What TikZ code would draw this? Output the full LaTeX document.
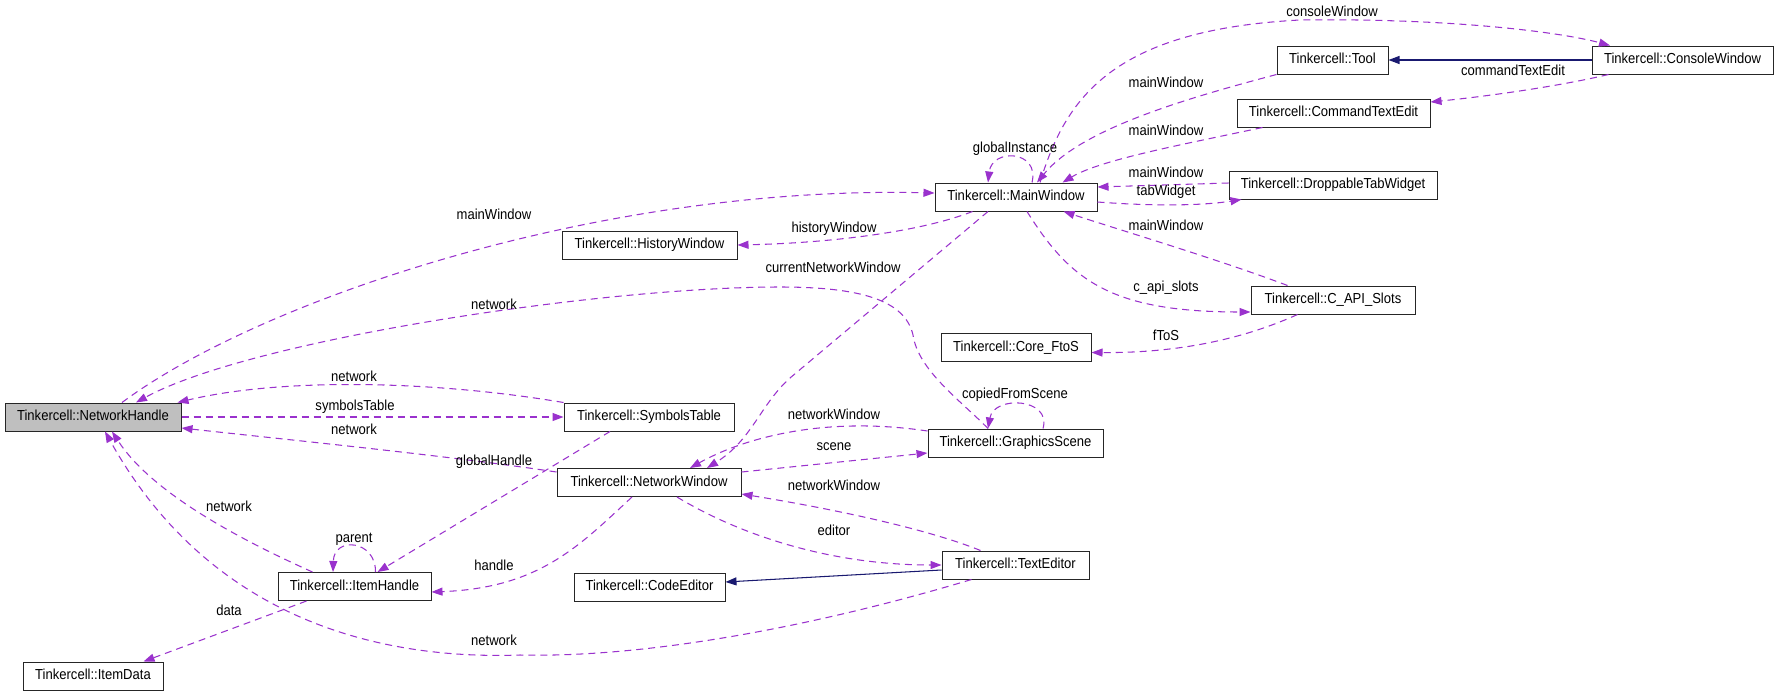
\documentclass[tikz,border=0pt]{standalone}
\usepackage{fontspec}
\setmainfont{Liberation Sans}[FakeStretch=0.9]
\usetikzlibrary{arrows.meta}
\definecolor{edgepurple}{RGB}{154,50,205}
\definecolor{inhnavy}{RGB}{25,25,112}
\definecolor{nhgray}{RGB}{191,191,191}
\begin{document}
\begin{tikzpicture}[x=1pt,y=-1pt,
  cls/.style={draw=black!85, line width=1pt, inner sep=0pt, minimum height=28pt,
    text height=10.6pt, text depth=3pt, font=\fontsize{14.5}{17}\selectfont},
  lbl/.style={inner sep=0pt, text height=10.6pt, text depth=3pt, font=\fontsize{14.5}{17}\selectfont},
  assoc/.style={draw=edgepurple, line width=1.05pt, dash pattern=on 7pt off 5pt,
    -{Triangle[length=11pt,width=8pt]}},
  inh/.style={draw=inhnavy, line width=1.05pt, -{Triangle[length=11pt,width=8pt]}}]
\fill[white] (0,0) rectangle (1779,696);
\useasboundingbox (0,0) rectangle (1779,696);

% nodes
\node[cls, fill=nhgray, minimum width=176pt] (NH) at (93,417) {Tinkercell::NetworkHandle};
\node[cls, minimum width=170pt] (ST) at (649,417) {Tinkercell::SymbolsTable};
\node[cls, minimum width=184pt] (NW) at (649,482.5) {Tinkercell::NetworkWindow};
\node[cls, minimum width=153pt] (IH) at (354.5,586.5) {Tinkercell::ItemHandle};
\node[cls, minimum width=140pt] (ID) at (93,676) {Tinkercell::ItemData};
\node[cls, minimum width=151pt] (CE) at (649.5,587) {Tinkercell::CodeEditor};
\node[cls, minimum width=147pt] (TE) at (1015.5,565) {Tinkercell::TextEditor};
\node[cls, minimum width=175pt] (GS) at (1015.5,443) {Tinkercell::GraphicsScene};
\node[cls, minimum width=175pt] (HW) at (649.5,245) {Tinkercell::HistoryWindow};
\node[cls, minimum width=162pt] (MW) at (1016,197) {Tinkercell::MainWindow};
\node[cls, minimum width=150pt] (CF) at (1016,347.5) {Tinkercell::Core\_FtoS};
\node[cls, minimum width=164pt] (CA) at (1333,300) {Tinkercell::C\_API\_Slots};
\node[cls, minimum width=208pt] (DTW) at (1333,185) {Tinkercell::DroppableTabWidget};
\node[cls, minimum width=193pt] (CTE) at (1333.5,113) {Tinkercell::CommandTextEdit};
\node[cls, minimum width=111pt] (TL) at (1332.5,60) {Tinkercell::Tool};
\node[cls, minimum width=181pt] (CW) at (1682.5,60) {Tinkercell::ConsoleWindow};

% connectors
\draw[assoc] ([xshift=29pt]NH.north) .. controls (260,300) and (600,185) .. ([yshift=4pt]MW.west);
\draw[assoc] ([xshift=-27.5pt]GS.north) .. controls (960,400) and (918,370) .. (913,335)
  .. controls (905,300) and (860,287) .. (780,287)
  .. controls (600,287) and (250,340) .. ([xshift=43pt]NH.north);
\draw[assoc] (ST.north west) .. controls (430,380) and (280,378) .. ([xshift=-4pt]NH.north east);
\draw[assoc] (NH.east) -- (ST.west);
\draw[assoc] ([yshift=10.5pt]NW.west) .. controls (450,456) and (300,441) .. ([yshift=-11pt]NH.east);
\draw[assoc] ([xshift=-39pt]ST.south) -- ([xshift=-54pt]IH.north east);
\draw[assoc] ([xshift=-42pt]IH.north) .. controls (230,535) and (150,490) .. ([xshift=19pt]NH.south);
\draw[assoc] ([xshift=30pt]TE.south west) .. controls (820,625) and (650,658) .. (520,655)
  .. controls (380,660) and (210,620) .. ([xshift=12pt]NH.south);
\draw[assoc] ([xshift=21pt]IH.north) .. controls (376,540) and (334,536) .. ([xshift=-21.5pt]IH.north);
\draw[assoc] ([xshift=29pt]IH.south west) -- ([xshift=-20pt]ID.north east);
\draw[assoc] ([xshift=-17pt]NW.south) .. controls (580,545) and (540,588) .. ([yshift=-5.5pt]IH.east);
\draw[assoc] ([xshift=-28pt]MW.south) -- (790,378) .. controls (760,405) and (752,440) .. ([xshift=58pt]NW.north);
\draw[assoc] ([yshift=12pt]GS.west) .. controls (820,415) and (740,440) .. ([xshift=41pt]NW.north);
\draw[assoc] ([yshift=10.5pt]NW.east) -- ([yshift=-10pt]GS.west);
\draw[assoc] ([xshift=-35pt]TE.north) .. controls (930,530) and (840,510) .. ([yshift=-11.5pt]NW.east);
\draw[assoc] ([xshift=28pt]NW.south) .. controls (740,535) and (830,565) .. (TE.west);
\draw[inh] ([yshift=-5pt]TE.west) -- ([yshift=5pt]CE.east);
\draw[assoc] ([xshift=27.5pt]GS.north) .. controls (1052,398) and (994,395) .. ([xshift=-27.5pt]GS.north);
\draw[assoc] ([xshift=16pt]MW.north) .. controls (1040,150) and (992,148) .. ([xshift=-28pt]MW.north);
\draw[assoc] ([xshift=24pt]MW.north) .. controls (1065,100) and (1110,30) .. (1300,20)
  .. controls (1450,18) and (1560,32) .. ([xshift=-72.5pt]CW.north);
\draw[assoc] (TL.south west) .. controls (1180,100) and (1080,130) .. ([xshift=21pt]MW.north);
\draw[assoc] ([xshift=26pt]CTE.south west) .. controls (1180,145) and (1100,160) .. ([xshift=-35pt]MW.north east);
\draw[assoc] ([yshift=2pt]DTW.west) -- ([yshift=10pt]MW.east);
\draw[assoc] ([yshift=-5pt]MW.east) .. controls (1150,206) and (1200,206) .. ([xshift=13pt]DTW.south west);
\draw[assoc] ([xshift=17pt]CW.south west) .. controls (1560,86) and (1490,96) .. ([yshift=11pt]CTE.east);
\draw[inh] (CW.west) -- (TL.east);
\draw[assoc] ([xshift=38pt]MW.south west) .. controls (920,232) and (830,243) .. (HW.east);
\draw[assoc] ([xshift=11pt]MW.south) .. controls (1070,280) and (1110,312) .. ([yshift=-12pt]CA.west);
\draw[assoc] ([xshift=37pt]CA.north west) .. controls (1220,260) and (1120,230) .. ([xshift=-34pt]MW.south east);
\draw[assoc] ([xshift=47pt]CA.south west) .. controls (1230,345) and (1160,353) .. ([yshift=-5pt]CF.east);

% labels
\node[lbl] (L1) at (494,216) {mainWindow};
\node[lbl] (L2) at (494,306) {network};
\node[lbl] (L3) at (354,378) {network};
\node[lbl] (L4) at (355,407) {symbolsTable};
\node[lbl] (L5) at (354,431) {network};
\node[lbl] (L6) at (494,462) {globalHandle};
\node[lbl] (L7) at (229,508) {network};
\node[lbl] (L8) at (354,539) {parent};
\node[lbl] (L9) at (494,567) {handle};
\node[lbl] (L10) at (229,612) {data};
\node[lbl] (L11) at (494,642) {network};
\node[lbl] (L12) at (834,229) {historyWindow};
\node[lbl] (L13) at (833,269) {currentNetworkWindow};
\node[lbl] (L14) at (834,416) {networkWindow};
\node[lbl] (L15) at (834,447) {scene};
\node[lbl] (L16) at (834,487) {networkWindow};
\node[lbl] (L17) at (834,532) {editor};
\node[lbl] (L18) at (1015,395) {copiedFromScene};
\node[lbl] (L19) at (1015,149) {globalInstance};
\node[lbl] (L20) at (1332,13) {consoleWindow};
\node[lbl] (L21) at (1166,84) {mainWindow};
\node[lbl] (L22) at (1166,132) {mainWindow};
\node[lbl] (L23) at (1166,174) {mainWindow};
\node[lbl] (L24) at (1166,192) {tabWidget};
\node[lbl] (L25) at (1166,227) {mainWindow};
\node[lbl] (L26) at (1166,288) {c\_api\_slots};
\node[lbl] (L27) at (1166,337) {fToS};
\node[lbl] (L28) at (1513,72) {commandTextEdit};
\end{tikzpicture}
\end{document}
